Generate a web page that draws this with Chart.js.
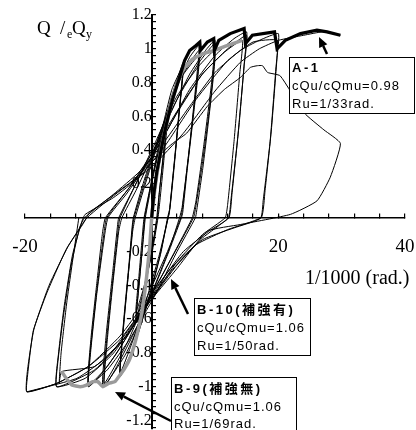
<!DOCTYPE html>
<html>
<head>
<meta charset="utf-8">
<script src="https://cdn.jsdelivr.net/npm/chart.js@4.4.1/dist/chart.umd.min.js"></script>
<style>
html,body{margin:0;padding:0;background:#fff;}
canvas{display:block;}
</style>
</head>
<body>
<canvas id="c" width="416" height="430"></canvas>
<script>
// ---- tick labels ----
const xLabelTicks = [-20, 20, 40];
const yLabelTicks = [-1.2, -1, -0.8, -0.6, -0.4, -0.2, 0.2, 0.4, 0.6, 0.8, 1, 1.2];

// ---- A-1 skeleton (thick black) ----
const a1EnvX = [0, 0.3, 0.8, 1.8, 2.3, 3.3, 4.4, 5.2, 6, 7, 7.6, 7.7, 8.8, 9.8, 9.9, 10.6, 12.4, 14.6, 14.8, 15.9, 19.4, 19.8, 21.1, 23.5, 26.1, 27.7, 29.8];
const a1EnvY = [0, 0.13, 0.27, 0.46, 0.55, 0.7, 0.83, 0.93, 0.99, 1.02, 1.04, 0.99, 1.04, 1.06, 0.99, 1.05, 1.09, 1.12, 1.03, 1.08, 1.1, 1.0, 1.05, 1.09, 1.11, 1.1, 1.08];

// ---- B-9 skeleton (thick gray) ----
const b9EnvX = [-14.2, -13.5, -12.6, -11.3, -10.3, -9.3, -8.5, -7.7, -6.8, -5.8, -5, -4.4, -3.5, -2.5, -1.5, -0.8, -0.3, 0, 0.5, 1.2, 2, 3, 4, 5, 6.5, 8, 9.9, 12, 14.3];
const b9EnvY = [-0.91, -0.95, -0.99, -1.0, -0.99, -0.97, -0.97, -1.0, -0.98, -0.97, -0.93, -0.9, -0.84, -0.72, -0.55, -0.35, -0.17, 0, 0.17, 0.35, 0.5, 0.66, 0.79, 0.88, 0.94, 0.97, 0.99, 1.02, 1.05];

// ---- A-1 hysteresis ----
const a1X = [0, 0.7, 1.6, 2.5, 1.9, 1.2, 0.8, 0, -1.2, -2.5, -2.0, -1.4, -1.0, 0, 1.5, 3, 4.2, 5,
  4.4, 3.6, 2.9, 2.5, 1.5, 0, -2, -3.8, -5, -4.5, -3.7, -3.0, -2.6, -1, 1.5, 4, 6, 7.5,
  6.8, 5.8, 4.8, 4.4, 3, 0.5, -2.5, -5.5, -7.5, -7.0, -6.1, -5.2, -4.7, -2.5, 0, 3, 6, 8.5, 10,
  9.4, 8.2, 7, 6.4, 4.5, 1.5, -2, -5.5, -8.5, -10, -9.6, -8.7, -7.6, -6.9, -4, -1, 2.5, 6, 10, 13, 15,
  14.7, 13.8, 12.7, 12.2, 9, 5, 2, -1.5, -6, -10.5, -15, -14.8, -14, -12.8, -11.4, -10.6, -6, -2, 2, 6, 10, 14, 17, 20,
  19.8, 18.9, 17.9, 17.3, 13, 8, 3, -1, -5, -10, -15, -19.7, -19.6, -18.6, -16.2, -13.2, -10.2, -5, 0, 5, 10, 14, 17, 20, 24, 27, 29.8];
const a1Y = [0, 0.25, 0.45, 0.6, 0.38, 0.15, 0, -0.2, -0.42, -0.6, -0.4, -0.16, 0, 0.2, 0.47, 0.7, 0.84, 0.92,
  0.65, 0.32, 0.06, 0, -0.2, -0.42, -0.67, -0.86, -0.94, -0.66, -0.34, -0.08, 0, 0.2, 0.5, 0.78, 0.95, 1.02,
  0.72, 0.36, 0.06, 0, -0.16, -0.4, -0.66, -0.88, -1.0, -0.72, -0.38, -0.08, 0, 0.16, 0.36, 0.62, 0.85, 0.99, 1.05,
  0.78, 0.42, 0.1, 0, -0.14, -0.35, -0.58, -0.8, -0.95, -1.0, -0.78, -0.46, -0.15, 0, 0.14, 0.3, 0.52, 0.76, 0.96, 1.06, 1.1,
  0.95, 0.55, 0.15, 0, -0.08, -0.2, -0.35, -0.55, -0.8, -0.95, -1.0, -0.85, -0.6, -0.3, -0.06, 0, 0.14, 0.27, 0.45, 0.66, 0.86, 0.99, 1.05, 1.09,
  0.95, 0.52, 0.16, 0, -0.06, -0.13, -0.3, -0.5, -0.7, -0.88, -0.98, -1.03, -0.9, -0.66, -0.4, -0.17, 0.0, 0.16, 0.3, 0.5, 0.75, 0.92, 1.0, 1.05, 1.08, 1.1, 1.08];

// ---- B-10 hysteresis ----
const b10X = [0, 0.8, 1.7, 2.5, 1.9, 1.3, 1.0, 0, -1.3, -2.5, -2.0, -1.5, -1.2, 0, 1.5, 3.2, 5,
  4.3, 3.4, 2.8, 2.6, 1.2, -0.8, -3, -5, -4.4, -3.6, -3.1, -2.9, -1.2, 1.5, 4.5, 7.5,
  6.7, 5.6, 4.8, 4.6, 2.5, -0.5, -4, -7.5, -7.0, -6.0, -5.2, -5.0, -2.5, 0.5, 4, 7.5, 10,
  9.3, 8.0, 6.9, 6.6, 4, 0.5, -3.5, -7, -10, -9.5, -8.5, -7.5, -7.1, -3.5, 0, 4, 8, 12, 15,
  14.6, 13.6, 12.5, 12.1, 8, 4, 0, -4, -9, -15, -14.7, -13.8, -12.5, -11.0, -10.5, -6, -2, 2, 7, 12, 16, 19.8,
  19.6, 18.7, 17.6, 17.2, 12, 7, 3, -1, -5, -10, -15, -19.7,
  -19.7, -18.7, -16.5, -13.4, -10.9, -9.8, -6.6, -3, 0, 3.3, 5.5, 8.8, 11.5, 14, 15.6, 16.7, 17.5, 18.3, 20.3, 24.1, 27.2, 29.8,
  28.2, 26.1, 21.9, 14, 8.8, 4, -1.9, -6.6, -11.8, -19.7];
const b10Y = [0, 0.22, 0.42, 0.58, 0.33, 0.1, 0, -0.22, -0.42, -0.56, -0.34, -0.12, 0, 0.22, 0.45, 0.7, 0.9,
  0.6, 0.26, 0.03, 0, -0.22, -0.48, -0.73, -0.92, -0.6, -0.28, -0.06, 0, 0.22, 0.52, 0.82, 0.99,
  0.66, 0.3, 0.04, 0, -0.2, -0.45, -0.75, -0.98, -0.68, -0.32, -0.04, 0, 0.2, 0.42, 0.7, 0.92, 1.03,
  0.7, 0.32, 0.05, 0, -0.18, -0.42, -0.68, -0.88, -0.99, -0.72, -0.38, -0.08, 0, 0.18, 0.36, 0.62, 0.85, 1.0, 1.08,
  0.9, 0.48, 0.1, 0, -0.12, -0.28, -0.48, -0.7, -0.9, -1.0, -0.8, -0.52, -0.22, -0.02, 0.02, 0.12, 0.24, 0.42, 0.7, 0.93, 1.04, 1.05,
  0.88, 0.45, 0.1, 0, -0.07, -0.16, -0.32, -0.52, -0.72, -0.88, -0.98, -1.03,
  -0.97, -0.67, -0.44, -0.18, -0.04, 0.03, 0.12, 0.22, 0.33, 0.44, 0.5, 0.66, 0.76, 0.83, 0.89, 0.9, 0.9, 0.86, 0.84, 0.62, 0.52, 0.44,
  0.24, 0.1, 0.02, -0.04, -0.08, -0.3, -0.57, -0.81, -0.95, -1.03];

// ---- B-9 hysteresis ----
const b9X = [0, 0.8, 1.7, 2.5, 1.9, 1.2, 0.9, 0, -1.2, -2.5, -2.0, -1.4, -1.1, 0, 1.5, 3.2, 5,
  4.3, 3.5, 2.8, 2.6, 1.2, -0.8, -3, -5, -4.4, -3.6, -3.0, -2.8, -1, 1.5, 4.5, 7.5,
  6.7, 5.6, 4.9, 4.7, 2.5, -0.5, -4, -7.7, -7.2, -6.2, -5.4, -5.2, -2.5, 0.5, 4, 7.5, 10,
  9.3, 8.1, 7.1, 6.9, 4, 0.5, -3.5, -7, -10, -9.6, -8.7, -7.8, -7.3, -3.5, 0, 4, 8, 11.5, 14.3,
  13.9, 13, 12, 11.6, 8, 4, 0, -4, -9, -14.2, -14.6, -14.3, -13.4, -12.2, -11.5];
const b9Y = [0, 0.28, 0.48, 0.63, 0.4, 0.14, 0, -0.2, -0.44, -0.62, -0.4, -0.14, 0, 0.22, 0.5, 0.76, 0.9,
  0.62, 0.3, 0.04, 0, -0.24, -0.52, -0.78, -0.93, -0.63, -0.3, -0.05, 0, 0.22, 0.52, 0.82, 0.96,
  0.64, 0.28, 0.03, 0, -0.22, -0.5, -0.8, -1.0, -0.7, -0.34, -0.05, 0, 0.2, 0.44, 0.72, 0.9, 0.99,
  0.68, 0.3, 0.04, 0, -0.2, -0.46, -0.72, -0.9, -0.99, -0.72, -0.4, -0.1, 0, 0.18, 0.38, 0.63, 0.85, 0.98, 1.05,
  0.85, 0.45, 0.08, 0, -0.1, -0.26, -0.48, -0.7, -0.88, -0.91, -0.98, -0.8, -0.5, -0.18, 0];

function zip(xs, ys) { return xs.map((x, i) => ({x: x, y: ys[i]})); }

const serif = "'Liberation Serif', 'Times New Roman', serif";
const sans = "'Liberation Sans', Arial, 'Noto Sans CJK JP', sans-serif";

const overlay = {
  id: 'overlay',
  afterDraw(chart) {
    const ctx = chart.ctx;
    ctx.save();
    ctx.fillStyle = '#000';
    ctx.textBaseline = 'alphabetic';
    ctx.textAlign = 'left';
    // axis titles
    ctx.font = '19px ' + serif;
    ctx.fillText('Q', 37, 34);
    ctx.fillText('/', 60, 34);
    ctx.fillText('Q', 72, 34);
    ctx.font = '12px ' + serif;
    ctx.fillText('e', 67, 38);
    ctx.fillText('y', 86, 38);
    ctx.font = '20px ' + serif;
    ctx.fillText('1/1000 (rad.)', 305, 284);

    function arrow(x1, y1, x2, y2) {
      const ang = Math.atan2(y2 - y1, x2 - x1);
      const hl = 10, hw = 4.5;
      const bx = x2 - hl * Math.cos(ang), by = y2 - hl * Math.sin(ang);
      ctx.strokeStyle = '#000';
      ctx.lineWidth = 2.5;
      ctx.beginPath();
      ctx.moveTo(x1, y1);
      ctx.lineTo(bx, by);
      ctx.stroke();
      ctx.beginPath();
      ctx.moveTo(x2, y2);
      ctx.lineTo(bx + hw * Math.sin(ang), by - hw * Math.cos(ang));
      ctx.lineTo(bx - hw * Math.sin(ang), by + hw * Math.cos(ang));
      ctx.closePath();
      ctx.fill();
    }
    function box(x, y, w, h, lines, ys) {
      ctx.fillStyle = '#fff';
      ctx.fillRect(x, y, w, h);
      ctx.strokeStyle = '#000';
      ctx.lineWidth = 1;
      ctx.strokeRect(x + 0.5, y + 0.5, w, h);
      ctx.fillStyle = '#000';
      ctx.textBaseline = 'middle';
      lines.forEach((t, i) => {
        if (i === 0) {
          ctx.font = 'bold 13px ' + sans;
          ctx.letterSpacing = '2.5px';
        } else {
          ctx.font = '13px ' + sans;
          ctx.letterSpacing = '1px';
        }
        ctx.fillText(t, x + 3, ys[i]);
      });
      ctx.letterSpacing = '0px';
    }
    arrow(327, 54, 319, 37);
    arrow(188, 314, 171, 279);
    arrow(171, 421, 115, 392);
    box(289, 57, 125, 56, ['A-1', 'cQu/cQmu=0.98', 'Ru=1/33rad.'], [68, 86, 104]);
    box(194, 298, 116, 57, ['B-10(補強有)', 'cQu/cQmu=1.06', 'Ru=1/50rad.'], [310, 328, 346]);
    box(171, 377, 125, 60, ['B-9(補強無)', 'cQu/cQmu=1.06', 'Ru=1/69rad.'], [389, 407, 424]);
    ctx.restore();
  }
};

const thin = {showLine: true, pointRadius: 0, borderColor: '#000', borderWidth: 1, tension: 0.15, fill: false};

new Chart(document.getElementById('c'), {
  type: 'scatter',
  data: {
    datasets: [
      Object.assign({}, thin, {label: 'A-1 skeleton', data: zip(a1EnvX, a1EnvY), borderWidth: 3.2, tension: 0}),
      Object.assign({}, thin, {label: 'B-9 skeleton', data: zip(b9EnvX, b9EnvY), borderColor: '#9a9a9a', borderWidth: 3.5, tension: 0.1}),
      Object.assign({}, thin, {label: 'A-1', data: zip(a1X, a1Y)}),
      Object.assign({}, thin, {label: 'B-10', data: zip(b10X, b10Y)}),
      Object.assign({}, thin, {label: 'B-9', data: zip(b9X, b9Y)})
    ]
  },
  options: {
    responsive: false,
    animation: false,
    devicePixelRatio: 1,
    layout: {padding: {left: 25, right: 11, top: 15, bottom: 1}, autoPadding: false},
    plugins: {legend: {display: false}, tooltip: {enabled: false}},
    scales: {
      x: {
        type: 'linear', min: -20, max: 40, position: {y: 0},
        border: {display: true, color: '#000', width: 1.5},
        grid: {display: true, drawOnChartArea: false, drawTicks: true, tickLength: -5, color: '#000', lineWidth: 1.2},
        afterBuildTicks(axis) {
          const t = [];
          for (let k = -5; k <= 10; k++) t.push({value: k * 4});
          axis.ticks = t;
        },
        afterFit(axis) { axis.height = 0; axis.paddingLeft = 0; axis.paddingRight = 0; axis.paddingTop = 0; axis.paddingBottom = 0; },
        ticks: {
          autoSkip: false, maxRotation: 0, minRotation: 0, padding: 23, color: '#000',
          font: {family: serif, size: 19},
          callback: v => xLabelTicks.includes(v) ? String(v) : ''
        }
      },
      y: {
        type: 'linear', min: -1.25, max: 1.2, position: {x: 0},
        border: {display: true, color: '#000', width: 2},
        grid: {display: true, drawOnChartArea: false, drawTicks: true, tickLength: -5, color: '#000', lineWidth: 1.2},
        afterBuildTicks(axis) {
          const t = [];
          for (let k = -31; k <= 30; k++) t.push({value: Math.round(k * 4) / 100});
          axis.ticks = t;
        },
        afterFit(axis) { axis.width = 0; axis.paddingLeft = 0; axis.paddingRight = 0; axis.paddingTop = 0; axis.paddingBottom = 0; },
        ticks: {
          autoSkip: false, padding: 19, color: '#000',
          font: {family: serif, size: 16},
          callback: v => {
            const m = yLabelTicks.find(l => Math.abs(l - v) < 1e-6);
            return m === undefined ? '' : String(m);
          }
        }
      }
    }
  },
  plugins: [overlay]
});
</script>
</body>
</html>
